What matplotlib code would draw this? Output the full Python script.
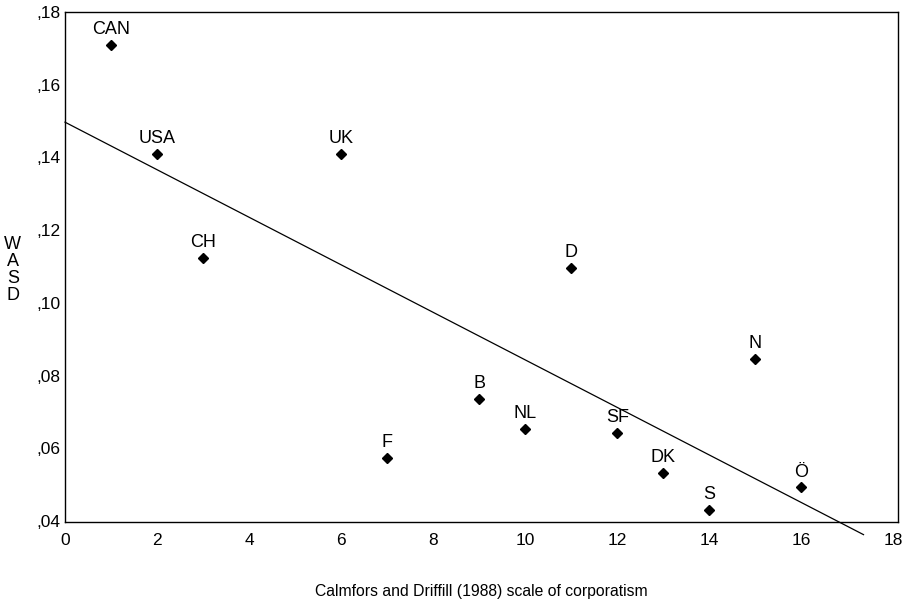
import matplotlib
matplotlib.use("Agg")
import matplotlib.pyplot as plt
import numpy as np

# data
countries = ["CAN", "USA", "CH", "UK", "F", "B", "NL", "D", "SF", "DK", "S", "N", "Ö"]
corporatism = [1, 2, 3, 6, 7, 9, 10, 11, 12, 13, 14, 15, 16]
wasd = [0.1709, 0.1409, 0.1123, 0.1409, 0.0573, 0.0735, 0.0653, 0.1096,
        0.0643, 0.0531, 0.0430, 0.0846, 0.0492]

# fitted line (intercept, slope)
fit_intercept = 0.1497
fit_slope = -0.00654

plt.rcParams["font.family"] = ["Liberation Sans", "DejaVu Sans"]

fig = plt.figure(figsize=(9.13, 6.01), dpi=100)
ax = fig.add_axes([0.0712, 0.1314, 0.9124, 0.8486])

ax.plot(corporatism, wasd, linestyle="none", marker="D", markersize=5.5,
        color="black")
for name, x, y in zip(countries, corporatism, wasd):
    ax.annotate(name, (x, y), xytext=(0, 5), textcoords="offset points",
                ha="center", va="bottom", fontsize=13)

fx = np.array([0, 17.35])
ax.plot(fx, fit_intercept + fit_slope * fx, color="black", linewidth=0.9,
        clip_on=False)

ax.set_xlim(0, 18.1)
ax.set_ylim(0.0397, 0.18)
ax.set_xticks(range(0, 19, 2))
ax.set_yticks([0.04, 0.06, 0.08, 0.10, 0.12, 0.14, 0.16, 0.18])
ax.set_yticklabels([",04", ",06", ",08", ",10", ",12", ",14", ",16", ",18"])
ax.tick_params(length=0, labelsize=12.5, pad=3)
ax.tick_params(axis="x", pad=8)

for s in ax.spines.values():
    s.set_linewidth(1.0)
    s.set_color("black")

ax.set_xlabel("Calmfors and Driffill (1988) scale of corporatism",
              fontsize=11.3, labelpad=26)
fig.text(0.014, 0.55, "W\nA\nS\nD", ha="center", va="center",
         fontsize=13, linespacing=1.0)

fig.savefig("out.png", dpi=100)
